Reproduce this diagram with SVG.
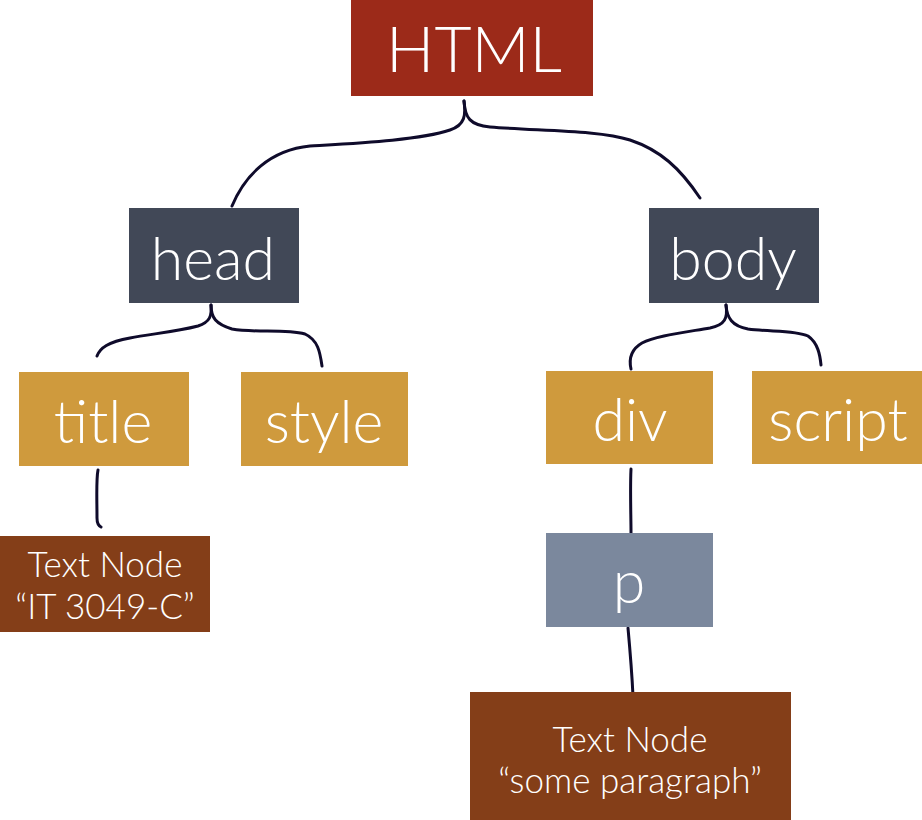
<svg xmlns="http://www.w3.org/2000/svg" width="922" height="820" viewBox="0 0 922 820">
<style>
.lbl{font-family:Lato,"Open Sans","DejaVu Sans",sans-serif;font-weight:300;fill:#ffffff;text-anchor:middle}
.big{font-size:59px}
.small{font-size:35px}
.conn path{fill:none;stroke:#0f0b2b;stroke-width:3;stroke-linecap:round;stroke-linejoin:round}
</style>
<rect width="922" height="820" fill="#ffffff"/>
<g class="conn" id="connectors">
<path d="M464,101 C466,115 465,125 450,130 C420,140 360,143 310,146 C270,150 245,175 232,206"/>
<path d="M464,101 C465,118 470,125 490,127 C540,131 600,130 630,140 C660,150 680,168 700,198"/>
<path d="M211,305 C212,316 210,322 198,326 C175,332 150,334 130,338 C108,342 100,348 97,356"/>
<path d="M211,305 C211,318 216,324 232,329 C255,333 285,329 305,334 C318,340 320,352 322,366"/>
<path d="M98,470 C96,480 97,500 97,518 C97,524 99,526 101,527"/>
<path d="M726,305 C728,318 725,325 710,328 C680,333 655,336 642,343 C630,350 629,360 631,369"/>
<path d="M726,305 C727,318 732,326 748,329 C770,332 795,330 808,336 C818,343 820,355 821,365"/>
<path d="M631,469 C630,490 631,515 631,533"/>
<path d="M628,628 C630,650 632,675 633,696"/>
</g>
<g id="node-html"><rect x="351" y="0" width="242" height="96" fill="#9c2a19"/><text class="lbl" x="474" y="72" font-size="64">HTML</text></g>
<g id="node-head"><rect x="129" y="208" width="170" height="95" fill="#414857"/><text class="lbl big" x="213" y="280">head</text></g>
<g id="node-body"><rect x="649" y="208" width="170" height="95" fill="#414857"/><text class="lbl big" x="733" y="280">body</text></g>
<g id="node-title"><rect x="19" y="372" width="170" height="94" fill="#cf9a3d"/><text class="lbl big" x="103" y="443">title</text></g>
<g id="node-style"><rect x="241" y="372" width="167" height="94" fill="#cf9a3d"/><text class="lbl big" x="324" y="443">style</text></g>
<g id="node-div"><rect x="546" y="371" width="167" height="93" fill="#cf9a3d"/><text class="lbl big" x="630" y="441">div</text></g>
<g id="node-script"><rect x="752" y="371" width="170" height="93" fill="#cf9a3d"/><text class="lbl big" x="838" y="441">script</text></g>
<g id="node-text1"><rect x="0" y="536" width="210" height="96" fill="#843e18"/><text class="lbl small" x="105" y="577">Text Node</text><text class="lbl small" x="105" y="619">“IT 3049-C”</text></g>
<g id="node-p"><rect x="546" y="533" width="167" height="94" fill="#7b889d"/><text class="lbl big" x="629" y="603">p</text></g>
<g id="node-text2"><rect x="470" y="692" width="321" height="128" fill="#843e18"/><text class="lbl small" x="630" y="752">Text Node</text><text class="lbl small" x="630" y="793">“some paragraph”</text></g>
</svg>
